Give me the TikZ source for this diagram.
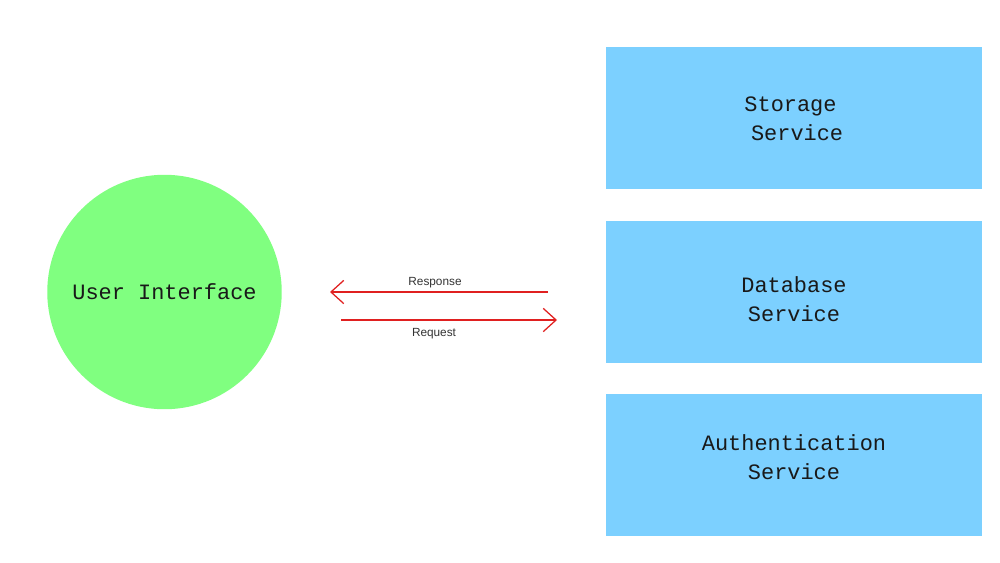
\documentclass[tikz,border=0pt]{standalone}
\usepackage{fontspec}
\newfontfamily\monofnt{Liberation Mono}
\newfontfamily\labfnt{Liberation Sans}
\usetikzlibrary{arrows.meta}
\definecolor{uigreen}{RGB}{128,255,128}
\definecolor{svcblue}{RGB}{124,208,255}
\definecolor{arrred}{RGB}{224,32,32}
\tikzset{
  svcbox/.style={rectangle, fill=svcblue, draw=none, minimum width=9.4cm, minimum height=3.55cm, inner sep=0pt},
  svctext/.style={font=\monofnt\fontsize{15.6}{20.6}\selectfont, align=center, inner sep=0pt, text=black!90},
  uicircle/.style={circle, fill=uigreen, draw=none, minimum size=5.86cm, inner sep=0pt},
  flow/.style={draw=arrred, line width=0.9pt, -{Straight Barb[length=3.2mm, width=5.8mm, line width=0.9pt]}},
  flowlabel/.style={font=\labfnt\fontsize{8.4}{10}\selectfont, inner sep=0pt, text=black!80}
}
\begin{document}
\begin{tikzpicture}[x=0.025cm, y=-0.025cm]
\useasboundingbox (0,0) rectangle (1000,562);
% user interface
\node[uicircle] (ui) at (164.5,292) {};
\node[font=\monofnt\fontsize{15.6}{20.6}\selectfont, inner sep=0pt, text=black!90] (uitext) at (164.5,292) {User Interface};
% services
\node[svcbox] (storage) at (794,118) {};
\node[svcbox] (database) at (794,292) {};
\node[svcbox] (auth) at (794,465) {};
\node[svctext] (storagetext) at (790.5,119) {Storage\\\hspace*{0.6em}Service};
\node[svctext] (databasetext) at (794,299) {Database\\Service};
\node[svctext] (authtext) at (794,457) {Authentication\\Service};
% arrows
\coordinate (respstart) at (548,292);
\coordinate (respend) at (330,292);
\coordinate (reqstart) at (341,320);
\coordinate (reqend) at (557,320);
\draw[flow] (respstart) -- (respend);
\draw[flow] (reqstart) -- (reqend);
\node[flowlabel] (resplabel) at (435,283) {Response};
\node[flowlabel] (reqlabel) at (434,334) {Request};
\end{tikzpicture}
\end{document}
